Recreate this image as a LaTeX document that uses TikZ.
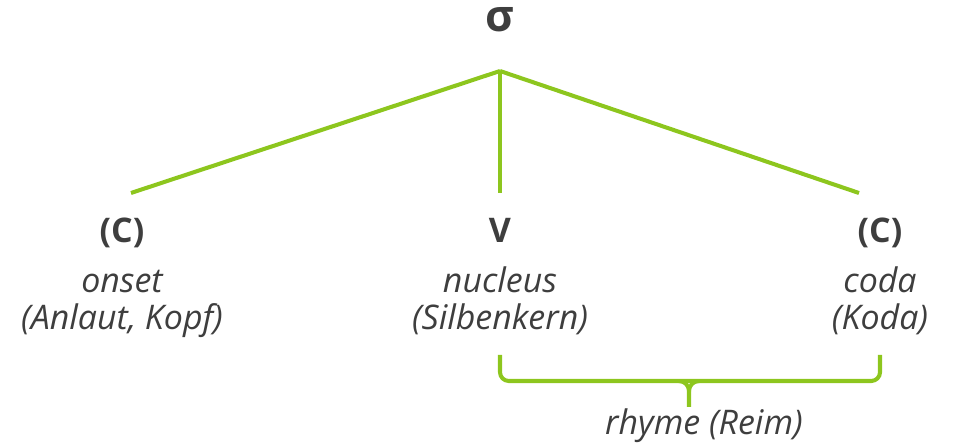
\documentclass[tikz,border=0pt]{standalone}
\usepackage{fontspec}
\setmainfont{Open Sans}
\usepackage{xcolor}
\definecolor{leaf}{RGB}{141,198,30}
\definecolor{ink}{RGB}{62,62,62}

\begin{document}
\begin{tikzpicture}[scale=1,
    branch/.style={draw=leaf, line width=2.3pt},
    unit/.style={anchor=base, text=ink, font=\fontsize{19.3}{23}\selectfont\bfseries},
    gloss/.style={anchor=base, text=ink, font=\fontsize{19.3}{23}\selectfont\itshape}]
  \useasboundingbox (0,0) rectangle (19.1,8.86);

  % Syllable node
  \node[unit, font=\fontsize{25}{30}\selectfont\bfseries] (sigma) at (10,8.22) {σ};
  \coordinate (apex) at (10,7.44);

  % Ends of the branches
  \coordinate (onsetEnd) at (2.62,5.0);
  \coordinate (nucleusEnd) at (10,5.0);
  \coordinate (codaEnd) at (17.18,5.0);

  \draw[branch] (apex) -- (onsetEnd);
  \draw[branch] (apex) -- (nucleusEnd);
  \draw[branch] (apex) -- (codaEnd);

  % Constituents
  \node[unit] (onsetC) at (2.44,4.0) {(C)};
  \node[unit] (nucleusV) at (10,4.0) {V};
  \node[unit] (codaC) at (17.6,4.0) {(C)};

  \node[gloss] (onset) at (2.44,3.0) {onset};
  \node[gloss] (onsetDe) at (2.44,2.26) {(Anlaut, Kopf)};
  \node[gloss] (nucleus) at (10,3.0) {nucleus};
  \node[gloss] (nucleusDe) at (10,2.26) {(Silbenkern)};
  \node[gloss] (coda) at (17.6,3.0) {coda};
  \node[gloss] (codaDe) at (17.6,2.26) {(Koda)};

  % Rhyme bracket
  \coordinate (rhymeL) at (10,1.76);
  \coordinate (rhymeR) at (17.6,1.76);
  \coordinate (rhymeTip) at (13.78,0.72);
  \draw[branch, rounded corners=5pt] (rhymeL) -- (10,1.24) -- (17.6,1.24) -- (rhymeR);
  \draw[branch] (13.58,1.24) to[out=0,in=90] (rhymeTip |- 0,1.04) -- (rhymeTip);
  \draw[branch] (13.98,1.24) to[out=180,in=90] (rhymeTip |- 0,1.04);
  \node[gloss] (rhyme) at (14.08,0.16) {rhyme (Reim)};
\end{tikzpicture}
\end{document}
